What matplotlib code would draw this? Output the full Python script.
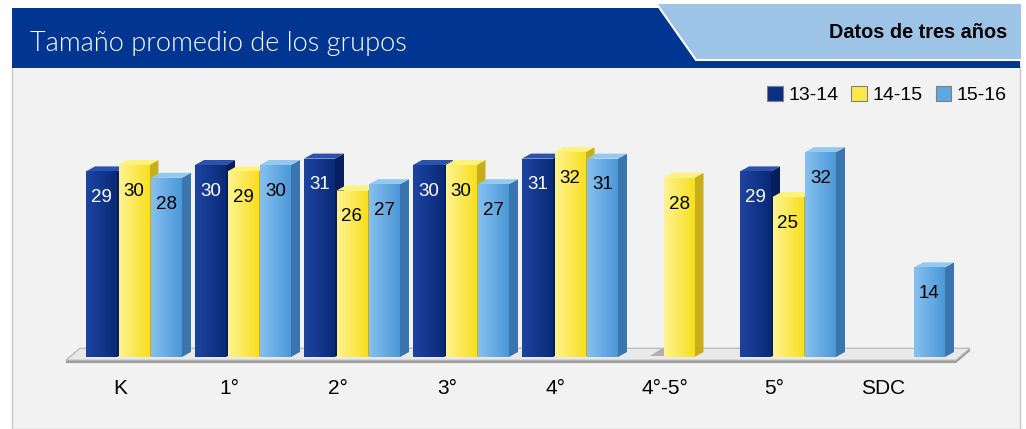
import matplotlib
matplotlib.use("Agg")
import matplotlib.pyplot as plt
from matplotlib.patches import Polygon, Patch
from matplotlib.colors import LinearSegmentedColormap
from matplotlib.transforms import IdentityTransform
from matplotlib import font_manager
import numpy as np

# ---- data ----
categories = ["K", "1°", "2°", "3°", "4°", "4°-5°", "5°", "SDC"]
series_names = ["13-14", "14-15", "15-16"]
v1314 = [29, 30, 31, 30, 31, None, 29, None]
v1415 = [30, 29, 26, 30, 32, 28, 25, None]
v1516 = [28, 30, 27, 27, 31, None, 32, 14]
series = [v1314, v1415, v1516]

front_cols = ["#0b2f86", "#fde84a", "#5ea8e3"]
grad_cols = [("#1c44a0", "#0a2a78"), ("#fff391", "#f8df1e"), ("#86c0ef", "#4c98d8")]
side_cols = ["#061f5c", "#c8ad1c", "#3a76ad"]
top_cols = ["#2a52ae", "#fff27a", "#93c8f0"]
label_cols = ["white", "black", "black"]

# pick a light-weight font for the title if one is installed
title_prop = font_manager.FontProperties(family="Lato", size=19.5)
for fam in ["Lato", "Roboto", "Open Sans", "Noto Sans", "Inter"]:
    found = [f for f in font_manager.fontManager.ttflist
             if f.name == fam and f.weight == 300 and f.style == "normal"]
    if found:
        title_prop = font_manager.FontProperties(fname=found[0].fname, size=19.5)
        break

W, H = 1026, 429
fig = plt.figure(figsize=(W / 100, H / 100), dpi=100)
fig.patch.set_facecolor("white")

def img_poly(pts, **kw):
    p = Polygon([(x, H - y) for x, y in pts], closed=True, transform=IdentityTransform(), zorder=-5, **kw)
    fig.patches.append(p)
    return p

# body
img_poly([(12, 66), (1020, 66), (1020, 429), (12, 429)], facecolor="#f2f2f2", edgecolor="#c9c9c9", lw=1)
# header dark blue
img_poly([(12, 8), (1020, 8), (1020, 68), (12, 68)], facecolor="#003591", edgecolor="none")
# light blue tab with white slanted edge
img_poly([(656, 3), (1022, 3), (1022, 60), (696, 60)], facecolor="#9dc3e6", edgecolor="white", lw=1.5)
img_poly([(654, 0), (1026, 0), (1026, 4), (657, 4)], facecolor="white", edgecolor="none")

fig.text(30 / W, 1 - 43 / H, "Tamaño promedio de los grupos", color="white",
         fontproperties=title_prop, va="center", ha="left")
fig.text(1007 / W, 1 - 33 / H, "Datos de tres años", color="black",
         fontsize=14.3, family="Liberation Sans", fontweight="bold", va="center", ha="right")

# ---- chart axes (full width) ----
px_per_unit = 6.4
x0_px = 134.0
unit_px = 109.0
floor_px = 357.0
ax = fig.add_axes([0, 0, 1, 1])
ax.axis("off")
ax.patch.set_alpha(0)

# floor
dxu = 14 / unit_px
dyu = 12 / px_per_unit
fl_left, fl_right = -68 / unit_px, 822 / unit_px
ax.add_patch(Polygon([(fl_left, -0.5 - 0.45), (fl_right, -0.5 - 0.45), (fl_right + dxu, -0.5 + dyu - 0.45),
                      (fl_right + dxu, -0.5 + dyu), (fl_left + dxu, -0.5 + dyu), (fl_left, -0.5)],
                     closed=True, facecolor="#9c9c9c", edgecolor="none", zorder=1))
ax.add_patch(Polygon([(fl_left, -0.5), (fl_right, -0.5), (fl_right + dxu, -0.5 + dyu), (fl_left + dxu, -0.5 + dyu)],
                     closed=True, facecolor="#e9e9e9", edgecolor="#b5b5b5", lw=0.8, zorder=2))

x = np.arange(len(categories))
bw = 31 / unit_px
step = 32.5 / unit_px
sdx = 9 / unit_px
sdy = 5 / px_per_unit
grad = np.linspace(0, 1, 64)[None, :]

for s, vals in enumerate(series):
    off = (s - 1) * step
    cmap = LinearSegmentedColormap.from_list("g%d" % s, list(grad_cols[s]))
    for i, v in enumerate(vals):
        if v is None:
            continue
        xc = x[i] + off
        l, r = xc - bw / 2, xc + bw / 2
        z = 5 + s * 3
        if s == 1 and v1314[i] is None and v1516[i] is None:
            ax.add_patch(Polygon([(l - 0.12, 0.2), (r, 0.2), (r, 1.2), (l - 0.02, 1.2)], closed=True,
                                 facecolor="#8a8a8a", edgecolor="none", alpha=0.6, zorder=3))
        bars = ax.bar(xc, v, width=bw, bottom=0, color=front_cols[s], edgecolor="none", zorder=z + 1)
        im = ax.imshow(grad, cmap=cmap, extent=(l, r, 0, v), aspect="auto", zorder=z + 1.5,
                       interpolation="bilinear")
        im.set_clip_path(bars[0])
        ax.add_patch(Polygon([(r, 0), (r + sdx, sdy), (r + sdx, v + sdy), (r, v)], closed=True,
                             facecolor=side_cols[s], edgecolor="none", zorder=z))
        ax.add_patch(Polygon([(l, v), (r, v), (r + sdx, v + sdy), (l + sdx, v + sdy)], closed=True,
                             facecolor=top_cols[s], edgecolor="none", zorder=z))
        ax.text(xc, v - 4.1, str(v), ha="center", va="center", fontsize=13.5,
                family="Liberation Sans", color=label_cols[s], zorder=30)

ax.set_xlim(-x0_px / unit_px, (W - x0_px) / unit_px)
ax.set_ylim(-(H - floor_px) / px_per_unit, floor_px / px_per_unit)

for i, c in enumerate(categories):
    ax.text(x[i] - 14 / unit_px, -(389 - floor_px) / px_per_unit, c, ha="center", va="center",
            fontsize=15, family="Liberation Sans", color="black")

handles = [Patch(facecolor=front_cols[k], edgecolor="#808080", lw=0.8, label=series_names[k]) for k in range(3)]
fig.legend(handles=handles, loc="center right", bbox_to_anchor=(1007 / W, 1 - 95 / H), ncol=3, frameon=False,
           handlelength=0.8, handleheight=0.8, handletextpad=0.3, columnspacing=0.65,
           prop={"family": "Liberation Sans", "size": 14}, borderaxespad=0, borderpad=0)

fig.savefig("out.png", dpi=100)
